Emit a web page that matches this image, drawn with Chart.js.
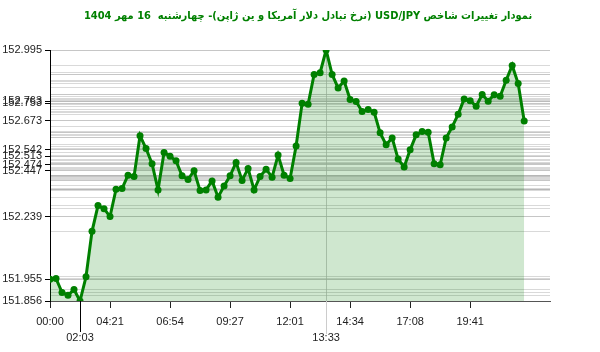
<!DOCTYPE html>
<html>
<head>
<meta charset="utf-8">
<script src="https://cdn.jsdelivr.net/npm/chart.js@4.4.1/dist/chart.umd.min.js"></script>
<style>
  html, body { margin: 0; padding: 0; background: #fff; }
  #wrap { width: 600px; height: 352px; }
</style>
</head>
<body>
<div id="wrap"><canvas id="usdJpyChart" width="600" height="352"></canvas></div>
<script>
const titleText = 'نمودار تغییرات شاخص USD/JPY (نرخ تبادل دلار آمریکا و ین ژاپن)- چهارشنبه  16 مهر 1404';

// price per sample (one every few minutes through the day)
const prices = [
  151.955, 151.958, 151.895, 151.882, 151.908, 151.856, 151.966, 152.172, 152.289, 152.275,
  152.239, 152.363, 152.366, 152.427, 152.421, 152.606, 152.548, 152.479, 152.360, 152.530,
  152.513, 152.492, 152.424, 152.407, 152.447, 152.357, 152.360, 152.401, 152.327, 152.378,
  152.424, 152.485, 152.403, 152.457, 152.360, 152.421, 152.454, 152.418, 152.518, 152.427,
  152.412, 152.559, 152.753, 152.749, 152.884, 152.892, 152.995, 152.884, 152.823, 152.854,
  152.770, 152.761, 152.716, 152.725, 152.713, 152.619, 152.565, 152.596, 152.500, 152.464,
  152.542, 152.610, 152.625, 152.622, 152.479, 152.474, 152.596, 152.646, 152.703, 152.773,
  152.765, 152.740, 152.793, 152.763, 152.792, 152.785, 152.858, 152.925, 152.843, 152.673
];

const xTickIndex = [0, 5, 10, 20, 30, 40, 46, 50, 60, 70];
const xTickLabels = ['00:00', '02:03', '04:21', '06:54', '09:27', '12:01', '13:33', '14:34', '17:08', '19:41'];
const xSecondRow = ['02:03', '13:33'];

const yTickValues = [152.995, 152.763, 152.753, 152.673, 152.542, 152.513, 152.474, 152.447, 152.239, 151.955, 151.856];

const points = prices.map((p, i) => ({ x: i, y: p }));
const gridValues = prices.concat(yTickValues);

const labelFont = { family: 'Liberation Sans', size: 11 };

// extra lines under the x axis and the title (drawn rtl)
const extrasPlugin = {
  id: 'extras',
  afterDraw(chart) {
    const { ctx, scales } = chart;
    const bottom = chart.chartArea.bottom;
    ctx.save();
    ctx.lineWidth = 1;
    let x = Math.round(scales.x.getPixelForValue(5)) + 0.5;
    ctx.strokeStyle = '#000';
    ctx.beginPath(); ctx.moveTo(x, bottom); ctx.lineTo(x, bottom + 31); ctx.stroke();
    x = Math.round(scales.x.getPixelForValue(46)) + 0.5;
    ctx.strokeStyle = '#ccc';
    ctx.beginPath(); ctx.moveTo(x, bottom); ctx.lineTo(x, bottom + 33); ctx.stroke();

    ctx.direction = 'rtl';
    ctx.textAlign = 'center';
    ctx.textBaseline = 'middle';
    ctx.fillStyle = '#008000';
    ctx.font = 'bold 11px "DejaVu Sans Condensed", "DejaVu Sans"';
    ctx.fillText(titleText, 308, 16);
    ctx.restore();
  }
};

const ctx = document.getElementById('usdJpyChart').getContext('2d');
new Chart(ctx, {
  type: 'line',
  data: {
    datasets: [{
      data: points,
      borderColor: '#008000',
      backgroundColor: 'rgba(0, 128, 0, 0.19)',
      fill: 'start',
      borderWidth: 3,
      tension: 0,
      pointRadius: 3.5,
      pointBorderWidth: 0,
      pointBackgroundColor: '#008000'
    }]
  },
  options: {
    responsive: false,
    animation: false,
    layout: { padding: { top: 50, right: 50, left: 0, bottom: 0 } },
    plugins: {
      legend: { display: false },
      tooltip: { enabled: false }
    },
    scales: {
      x: {
        type: 'linear',
        min: 0,
        max: 83.3,
        afterBuildTicks: (scale) => { scale.ticks = xTickIndex.map(v => ({ value: v })); },
        afterFit: (scale) => { scale.height = 51; },
        ticks: {
          autoSkip: false,
          maxRotation: 0,
          padding: 6,
          color: '#222',
          font: { ...labelFont, lineHeight: 1.45 },
          callback: (value) => {
            const label = xTickLabels[xTickIndex.indexOf(value)];
            return xSecondRow.includes(label) ? ['', label] : label;
          }
        },
        grid: {
          color: (c) => (c.tick && c.tick.value === 46 ? '#ccc' : 'rgba(0,0,0,0)'),
          tickColor: '#222',
          tickLength: 7
        },
        border: { color: '#555' }
      },
      y: {
        position: 'left',
        min: 151.856,
        max: 152.995,
        afterBuildTicks: (scale) => { scale.ticks = yTickValues.map(v => ({ value: v })); },
        afterFit: (scale) => { scale.width = 50; },
        ticks: {
          autoSkip: false,
          padding: 3,
          color: '#222',
          font: labelFont,
          callback: (value) => value.toFixed(3)
        },
        grid: { drawOnChartArea: false, tickColor: '#000', tickLength: 5 },
        border: { color: '#000' }
      },
      yGrid: {
        position: 'right',
        min: 151.856,
        max: 152.995,
        afterBuildTicks: (scale) => { scale.ticks = gridValues.map(v => ({ value: v })); },
        afterFit: (scale) => { scale.width = 0; },
        ticks: { display: false },
        grid: { color: 'rgba(180, 180, 180, 0.5)', drawTicks: false },
        border: { display: false }
      }
    }
  },
  plugins: [extrasPlugin]
});
</script>
</body>
</html>
